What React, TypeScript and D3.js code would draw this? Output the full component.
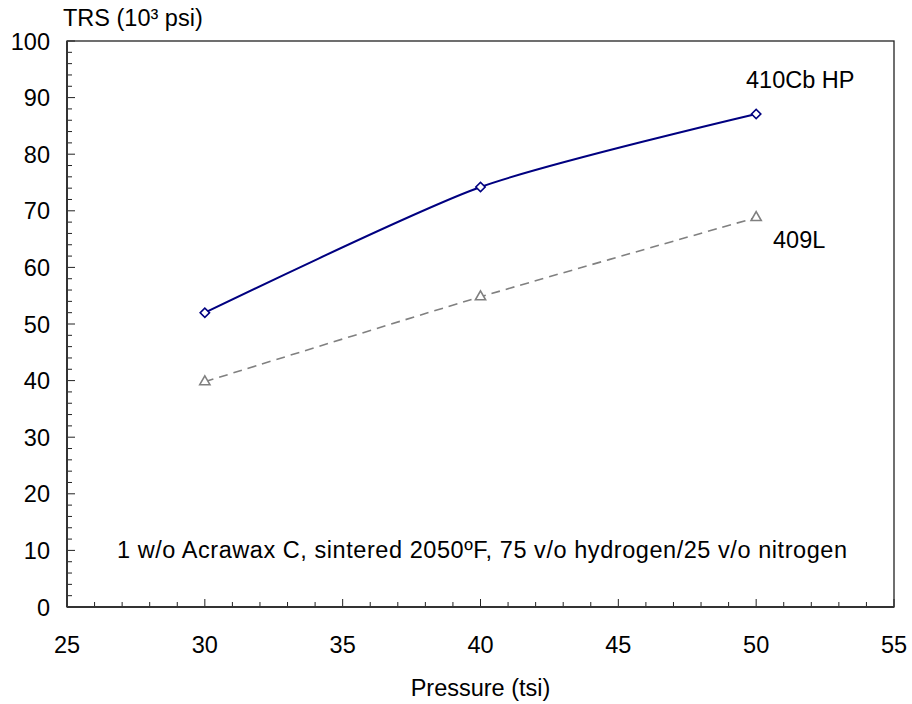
import React from "react";
import * as d3 from "d3";

const pressure = [30, 40, 50];
const trs410CbHP = [52.0, 74.2, 87.1];
const trs409L = [39.8, 54.8, 68.8];
const xTicks = [25, 30, 35, 40, 45, 50, 55];
const yTicks = [0, 10, 20, 30, 40, 50, 60, 70, 80, 90, 100];
const seriesNames = ["410Cb HP", "409L"];
const xTitle = "Pressure (tsi)";
const yTitle = "TRS (10³ psi)";
const note = "1 w/o Acrawax C, sintered 2050ºF, 75 v/o hydrogen/25 v/o nitrogen";

const W = 912;
const H = 704;
const L = 67, R = 894, T = 41, B = 607;
const FONT = "'Liberation Sans', Arial, Helvetica, sans-serif";
const FS = 23.5;

export default function App() {
  const x = d3.scaleLinear().domain([25, 55]).range([L, R]);
  const y = d3.scaleLinear().domain([0, 100]).range([B, T]);
  const line = d3
    .line<[number, number]>()
    .x((d) => x(d[0]))
    .y((d) => y(d[1]))
    .curve(d3.curveCardinal.tension(0.3));
  const s1: [number, number][] = pressure.map((p, i) => [p, trs410CbHP[i]]);
  const s2: [number, number][] = pressure.map((p, i) => [p, trs409L[i]]);
  const xMinor = d3.range(25, 56, 1);
  const yMinor = d3.range(0, 101, 2);
  const tri = d3.symbol().type(d3.symbolTriangle).size(45)();

  return (
    <svg
      width={W}
      height={H}
      style={{ position: "absolute", left: 0, top: 0, background: "#fff" }}
      fontFamily={FONT}
    >
      <rect x={0} y={0} width={W} height={H} fill="#fff" />
      {xMinor.map((v) => (
        <line
          key={"xm" + v}
          x1={x(v)}
          x2={x(v)}
          y1={B}
          y2={B - (v % 5 === 0 ? 8 : 5)}
          stroke="#222"
          strokeWidth={1}
        />
      ))}
      {yMinor.map((v) => (
        <line
          key={"ym" + v}
          x1={L}
          x2={L + (v % 10 === 0 ? 8 : 5)}
          y1={y(v)}
          y2={y(v)}
          stroke="#222"
          strokeWidth={1}
        />
      ))}
      <rect x={L} y={T} width={R - L} height={B - T} fill="none" stroke="#222" strokeWidth={1.3} />
      <line x1={L} x2={R} y1={B} y2={B} stroke="#333" strokeWidth={2} />
      <line x1={L} x2={L} y1={T} y2={B} stroke="#333" strokeWidth={2} />

      {xTicks.map((v) => (
        <text key={"xt" + v} x={x(v)} y={B + 46} textAnchor="middle" fontSize={FS} fill="#000">
          {v}
        </text>
      ))}
      {yTicks.map((v) => (
        <text key={"yt" + v} x={L - 17} y={y(v) + 8.5} textAnchor="end" fontSize={FS} fill="#000">
          {v}
        </text>
      ))}
      <text x={L - 4} y={26} fontSize={FS} fill="#000">
        {yTitle}
      </text>
      <text x={(L + R) / 2} y={696} textAnchor="middle" fontSize={FS} fill="#000">
        {xTitle}
      </text>
      <text x={482} y={558} textAnchor="middle" fontSize={FS} fill="#000" textLength={730} lengthAdjust="spacing">
        {note}
      </text>

      <path d={line(s2) || ""} fill="none" stroke="#808080" strokeWidth={1.6} strokeDasharray="9,6" />
      <path d={line(s1) || ""} fill="none" stroke="#000080" strokeWidth={2} />

      {s1.map((d, i) => (
        <rect
          key={"m1" + i}
          x={-3.3}
          y={-3.3}
          width={6.6}
          height={6.6}
          transform={`translate(${x(d[0])},${y(d[1])}) rotate(45)`}
          fill="#fff"
          stroke="#000080"
          strokeWidth={1.6}
        />
      ))}
      {s2.map((d, i) => (
        <path
          key={"m2" + i}
          d={tri || ""}
          transform={`translate(${x(d[0])},${y(d[1])})`}
          fill="#fff"
          stroke="#808080"
          strokeWidth={1.6}
        />
      ))}

      <text x={746} y={88} fontSize={FS} fill="#000">
        {seriesNames[0]}
      </text>
      <text x={773} y={248} fontSize={FS} fill="#000">
        {seriesNames[1]}
      </text>
    </svg>
  );
}
